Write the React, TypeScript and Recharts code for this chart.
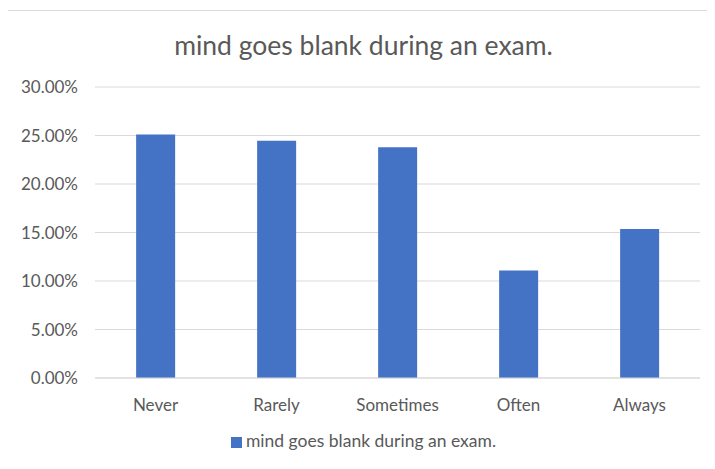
import React from 'react';
import { BarChart, Bar, XAxis, YAxis, CartesianGrid, Legend } from 'recharts';

const categories = ['Never', 'Rarely', 'Sometimes', 'Often', 'Always'];
const values = [25.1, 24.45, 23.8, 11.07, 15.35];
const yTicks = [0, 5, 10, 15, 20, 25, 30];
const seriesName = 'mind goes blank during an exam.';

const data = categories.map((c, i) => ({ name: c, value: values[i] }));

const textColor = '#595959';
const font = 'Lato, "Open Sans", sans-serif';

const App: React.FC = () => {
  return (
    <div
      style={{
        position: 'relative',
        width: 715,
        height: 469,
        margin: -8,
        background: '#fff',
        fontFamily: font,
        overflow: 'hidden',
      }}
    >
      <div
        style={{
          position: 'absolute',
          left: 7,
          top: 10,
          width: 715,
          height: 469,
          borderLeft: '1px solid #d9d9d9',
          borderTop: '1px solid #d9d9d9',
        }}
      />
      <div
        style={{
          position: 'absolute',
          top: 29,
          left: 0,
          width: 727,
          textAlign: 'center',
          fontSize: 26.5,
          color: textColor,
        }}
      >
        {seriesName}
      </div>
      <div style={{ position: 'absolute', left: 0, top: 0 }}>
        <BarChart
          width={715}
          height={469}
          data={data}
          margin={{ top: 87, right: 15, left: 15, bottom: 40 }}
          barCategoryGap="34%"
        >
          <CartesianGrid vertical={false} stroke="#d9d9d9" />
          <XAxis
            dataKey="name"
            axisLine={{ stroke: '#d9d9d9' }}
            tickLine={false}
            tickSize={0}
            tickMargin={21}
            tick={{ fill: textColor, fontSize: 17, fontFamily: font }}
          />
          <YAxis
            width={80}
            domain={[0, 30]}
            ticks={yTicks}
            axisLine={false}
            tickLine={false}
            tickSize={0}
            tickMargin={17}
            tickFormatter={(v: number) => `${v.toFixed(2)}%`}
            tick={{ fill: textColor, fontSize: 17, fontFamily: font }}
          />
          <Legend
            verticalAlign="bottom"
            iconType="square"
            iconSize={11}
            wrapperStyle={{ fontSize: 17.5, fontFamily: font, bottom: 18, left: 26 }}
            formatter={(v: string) => <span style={{ color: textColor }}>{v}</span>}
          />
          <Bar dataKey="value" name={seriesName} fill="#4472C4" isAnimationActive={false} />
        </BarChart>
      </div>
    </div>
  );
};

export default App;
